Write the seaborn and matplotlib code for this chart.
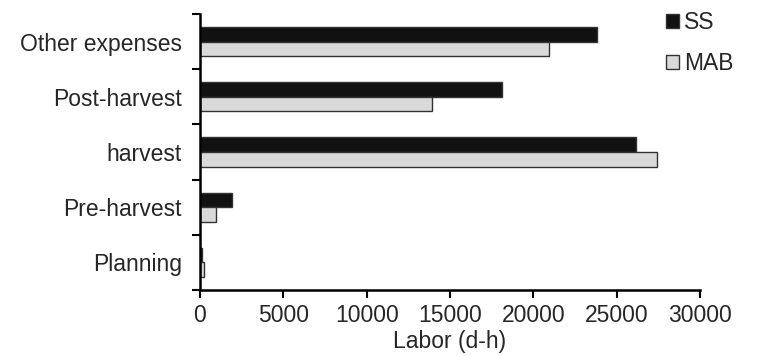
import matplotlib
matplotlib.use("Agg")
import matplotlib.pyplot as plt
import seaborn as sns
import pandas as pd
from matplotlib.patches import Patch

categories = ["Other expenses", "Post-harvest", "harvest", "Pre-harvest", "Planning"]
ss_values = [23850, 18150, 26150, 1900, 100]
mab_values = [20950, 13950, 27400, 950, 250]
series = ["SS", "MAB"]
x_ticks = [0, 5000, 10000, 15000, 20000, 25000, 30000]

df = pd.DataFrame({
    "category": categories * 2,
    "value": ss_values + mab_values,
    "series": [series[0]] * len(categories) + [series[1]] * len(categories),
})

sns.set_theme(style="white")
plt.rcParams["font.family"] = ["Liberation Sans", "DejaVu Sans"]

fig = plt.figure(figsize=(7.72, 3.56), dpi=100)
ax = fig.add_axes([200 / 772, 1 - 290 / 356, 500 / 772, 276 / 356])

palette = {"SS": "#111111", "MAB": "#d9d9d9"}
sns.barplot(data=df, x="value", y="category", hue="series", order=categories,
            hue_order=series, palette=palette, width=0.53, edgecolor="#333333",
            linewidth=1.0, ax=ax, legend=False, saturation=1)

fs = 16.5
ax.set_xlim(0, 30000)
ax.set_ylim(len(categories) - 0.5, -0.5)
ax.set_xticks(x_ticks)
ax.set_xticklabels([str(t) for t in x_ticks], fontsize=fs)
ax.set_yticks([i - 0.5 for i in range(len(categories) + 1)])
ax.set_yticklabels([])
ax.set_yticks(range(len(categories)), minor=True)
ax.set_yticklabels(categories, minor=True, fontsize=fs)
ax.tick_params(axis="y", which="minor", length=0, pad=13)
ax.tick_params(axis="y", which="major", direction="out", length=6, width=1.5, color="black", left=True)
ax.tick_params(axis="x", which="major", direction="out", length=6, width=1.5, color="black", bottom=True, pad=4)
ax.set_xlabel("Labor (d-h)", fontsize=fs, labelpad=2)
ax.set_ylabel("")

for s in ["top", "right"]:
    ax.spines[s].set_visible(False)
for s in ["left", "bottom"]:
    ax.spines[s].set_color("black")
    ax.spines[s].set_linewidth(1.8)

handles = [Patch(facecolor=palette[s], edgecolor="#333333", linewidth=1.0, label=s) for s in series]
fig.legend(handles=handles, loc="upper left", bbox_to_anchor=(666 / 772, 1 - 11 / 356), frameon=False,
           fontsize=fs, handlelength=0.55, handleheight=0.55, handletextpad=0.25,
           labelspacing=0.78, borderaxespad=0, borderpad=0)

fig.savefig("out.png", dpi=100)
